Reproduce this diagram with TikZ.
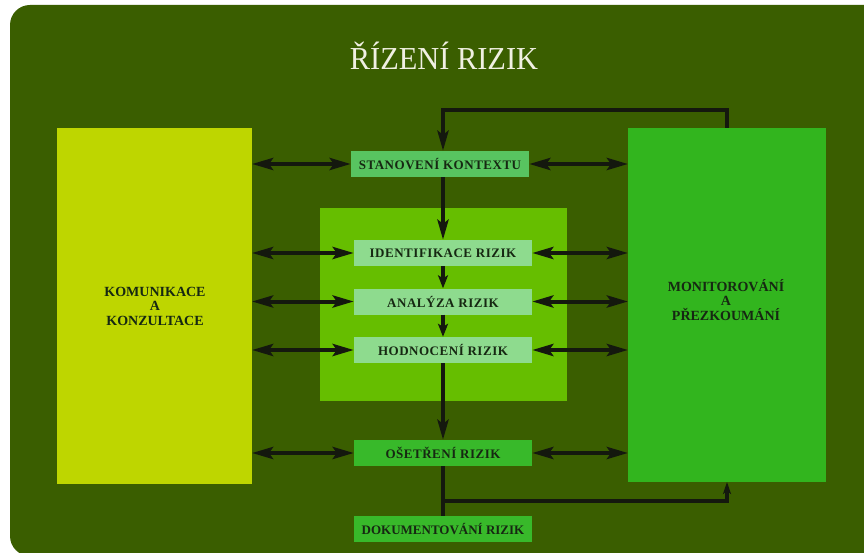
\documentclass[tikz,border=0pt]{standalone}
\usepackage{fontspec}
\setmainfont{Liberation Serif}
\newfontfamily\labelfont[LetterSpace=4]{Liberation Serif}
\usetikzlibrary{arrows.meta}

\definecolor{panelgreen}{RGB}{58,94,0}
\definecolor{leftgreen}{RGB}{190,214,0}
\definecolor{rightgreen}{RGB}{50,181,30}
\definecolor{midgreen}{RGB}{102,190,0}
\definecolor{ctxgreen}{RGB}{88,196,96}
\definecolor{palegreen}{RGB}{142,219,142}
\definecolor{treatgreen}{RGB}{56,185,42}
\definecolor{inkdark}{RGB}{22,40,18}
\definecolor{arrowink}{RGB}{20,24,14}
\definecolor{titleink}{RGB}{240,240,226}

\tikzset{
  stepbox/.style={minimum width=178pt, minimum height=26pt, inner sep=0pt,
    font=\labelfont\bfseries\fontsize{13}{14}\selectfont, text=inkdark},
  sidebox/.style={inner sep=0pt, font=\bfseries\fontsize{14}{14.5}\selectfont,
    text=inkdark, align=center},
  link/.style={draw=arrowink, line width=4pt},
  twoway/.style={link, {Stealth[length=21pt,width=12pt,inset=4pt]}-{Stealth[length=21pt,width=12pt,inset=4pt]}},
  oneway/.style={link, -{Stealth[length=20pt,width=11pt,inset=4pt]}},
}

\begin{document}
\begin{tikzpicture}[x=1pt,y=-1pt]
  \useasboundingbox (0,0) rectangle (864,553);
  \fill[white] (0,0) rectangle (864,553);
  \begin{scope}
    \clip (0,0) rectangle (864,553);
    \fill[panelgreen, rounded corners=20pt] (10,5) rectangle (900,556);
  \end{scope}

  % title
  \node[text=titleink, font=\fontsize{32}{36}\selectfont] (title) at (444,56)
    {\scalebox{0.95}[1]{ŘÍZENÍ RIZIK}};

  % side blocks
  \fill[leftgreen] (57,128) rectangle (252,484);
  \fill[rightgreen] (628,128) rectangle (826,482);
  \coordinate (leftedge) at (252,0);
  \coordinate (rightedge) at (628,0);
  \node[sidebox] (komunikace) at (155,306) {KOMUNIKACE\\A\\KONZULTACE};
  \node[sidebox] (monitor) at (726,300) {MONITOROVÁNÍ\\A\\PŘEZKOUMÁNÍ};

  % assessment panel
  \fill[midgreen] (320,208) rectangle (567,401);

  % process steps
  \node[stepbox, fill=ctxgreen, minimum width=178pt] (kontext) at (440,164) {STANOVENÍ KONTEXTU};
  \node[stepbox, fill=palegreen] (ident) at (443,253) {IDENTIFIKACE RIZIK};
  \node[stepbox, fill=palegreen] (analyza) at (443,301.5) {ANALÝZA RIZIK};
  \node[stepbox, fill=palegreen] (hodnoceni) at (443,350) {HODNOCENÍ RIZIK};
  \node[stepbox, fill=treatgreen] (osetreni) at (443,453) {OŠETŘENÍ RIZIK};
  \node[stepbox, fill=treatgreen, font=\bfseries\fontsize{13}{14}\selectfont] (dokument) at (443,529) {DOKUMENTOVÁNÍ RIZIK};

  % two-way links to the side blocks
  \foreach \n in {kontext,ident,analyza,hodnoceni,osetreni}{
    \draw[twoway] (leftedge |- \n.west) -- (\n.west);
    \draw[twoway] (\n.east) -- (rightedge |- \n.east);
  }

  % main flow
  \coordinate (looptop) at (727,110);
  \coordinate (monitortop) at (727,128);
  \draw[oneway] (monitortop) -- (looptop) -| (kontext.north -| ident.north);
  \draw[oneway] (kontext.south -| ident.south) -- (ident.north);
  \draw[link, -{Stealth[length=13pt,width=10pt,inset=3pt]}] (ident) -- (analyza);
  \draw[link, -{Stealth[length=13pt,width=10pt,inset=3pt]}] (analyza) -- (hodnoceni);
  \draw[oneway] (hodnoceni) -- (osetreni);
  \draw[link] (osetreni) -- (dokument);

  % feedback to monitoring
  \coordinate (branch) at (443,501);
  \coordinate (monitorbottom) at (727,482);
  \draw[link, -{Stealth[length=12pt,width=8pt,inset=3pt]}] (branch) -| (monitorbottom);
\end{tikzpicture}
\end{document}
